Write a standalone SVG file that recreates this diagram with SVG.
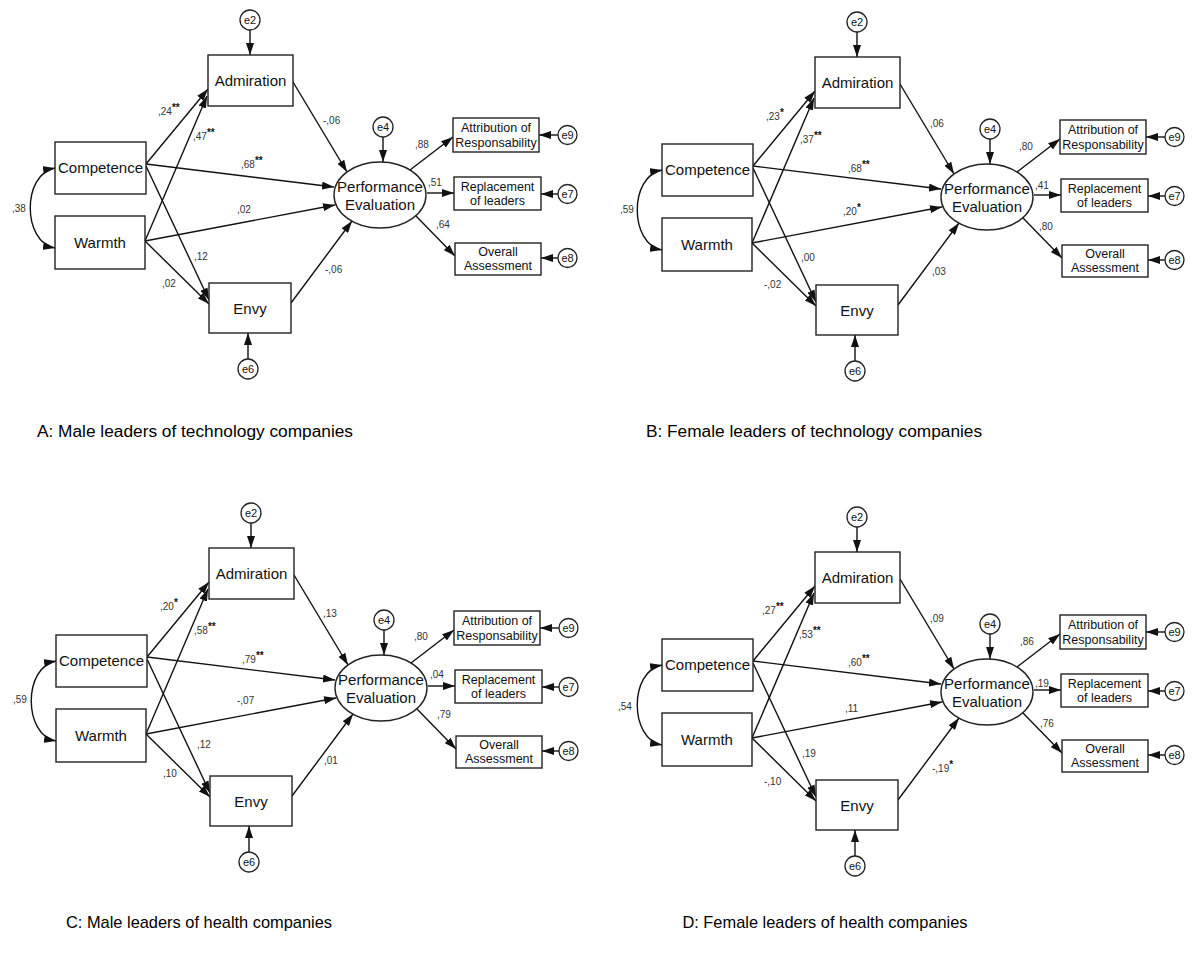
<svg xmlns="http://www.w3.org/2000/svg" width="1193" height="979" viewBox="0 0 1193 979">
  <style>
    .box { fill: #fff; stroke: #222; stroke-width: 1.4; }
    .err { fill: #fff; stroke: #222; stroke-width: 1.3; }
    .lat { fill: #fff; stroke: #222; stroke-width: 1.4; }
    .edge { fill: none; stroke: #111; stroke-width: 1.4; }
    .node { font-family: "Liberation Sans", Arial, sans-serif; font-size: 15px; fill: #111; text-anchor: middle; }
    .ind { font-family: "Liberation Sans", Arial, sans-serif; font-size: 12.5px; fill: #111; text-anchor: middle; }
    .etx { font-family: "Liberation Sans", Arial, sans-serif; font-size: 11px; fill: #111; text-anchor: middle; }
    .val { font-family: "Liberation Sans", Arial, sans-serif; font-size: 10px; fill: #333; }
    .sig { font-size: 10px; font-weight: bold; fill: #111; }
    .cap { font-family: "Liberation Sans", Arial, sans-serif; fill: #000; text-anchor: middle; }
    .cap-top { font-size: 17.3px; }
    .cap-bottom { font-size: 16.4px; }
  </style>
  <defs>
    <marker id="ah" markerUnits="userSpaceOnUse" markerWidth="12" markerHeight="8" refX="12" refY="4" orient="auto-start-reverse">
      <path d="M0,0 L12,4 L0,8 z" fill="#111"/>
    </marker>
  </defs>
  <rect width="1193" height="979" fill="#fff"/>

  <!-- Panel A -->
  <g id="panel-a">
    <g id="a-connectors">
      <path class="edge" d="M55,168 C22,174 22,242 55,248" marker-start="url(#ah)" marker-end="url(#ah)"/>
      <path class="edge" d="M146,164 L208,89" marker-end="url(#ah)"/>
      <path class="edge" d="M145,241 L207,96" marker-end="url(#ah)"/>
      <path class="edge" d="M146,164 L334,187" marker-end="url(#ah)"/>
      <path class="edge" d="M145,241 L335,205" marker-end="url(#ah)"/>
      <path class="edge" d="M146,166 L209,300" marker-end="url(#ah)"/>
      <path class="edge" d="M145,241 L209,304" marker-end="url(#ah)"/>
      <path class="edge" d="M293,82 L347,172" marker-end="url(#ah)"/>
      <path class="edge" d="M291,303 L352,221" marker-end="url(#ah)"/>
      <path class="edge" d="M410,170 L453,137" marker-end="url(#ah)"/>
      <path class="edge" d="M427,193 L454,193" marker-end="url(#ah)"/>
      <path class="edge" d="M416,216 L455,256" marker-end="url(#ah)"/>
      <path class="edge" d="M250,30 L250,55" marker-end="url(#ah)"/>
      <path class="edge" d="M383,137 L383,162" marker-end="url(#ah)"/>
      <path class="edge" d="M248,359 L248,333" marker-end="url(#ah)"/>
      <path class="edge" d="M558,135 L539,135" marker-end="url(#ah)"/>
      <path class="edge" d="M558,194 L541,194" marker-end="url(#ah)"/>
      <path class="edge" d="M558,258 L541,258" marker-end="url(#ah)"/>
    </g>
    <g id="a-admiration"><rect class="box" x="208" y="55" width="85" height="51"/><text class="node" x="250.5" y="86">Admiration</text></g>
    <g id="a-competence"><rect class="box" x="55" y="142" width="91" height="52"/><text class="node" x="100.5" y="173">Competence</text></g>
    <g id="a-warmth"><rect class="box" x="55" y="216" width="90" height="53"/><text class="node" x="100" y="248">Warmth</text></g>
    <g id="a-envy"><rect class="box" x="209" y="283" width="82" height="50"/><text class="node" x="250" y="314">Envy</text></g>
    <g id="a-performance"><ellipse class="lat" cx="380" cy="195" rx="46" ry="33"/><text class="node" x="380" y="192">Performance</text><text class="node" x="380" y="210">Evaluation</text></g>
    <g id="a-attribution"><rect class="box" x="453" y="118" width="86" height="34"/><text class="ind" x="496" y="132">Attribution of</text><text class="ind" x="496" y="147">Responsability</text></g>
    <g id="a-replacement"><rect class="box" x="454" y="177" width="87" height="33"/><text class="ind" x="497.5" y="191">Replacement</text><text class="ind" x="497.5" y="205">of leaders</text></g>
    <g id="a-overall"><rect class="box" x="455" y="243" width="86" height="32"/><text class="ind" x="498" y="256">Overall</text><text class="ind" x="498" y="270">Assessment</text></g>
    <g id="a-e2"><circle class="err" cx="250" cy="20" r="10"/><text class="etx" x="250" y="24">e2</text></g>
    <g id="a-e4"><circle class="err" cx="383" cy="127" r="10"/><text class="etx" x="383" y="131">e4</text></g>
    <g id="a-e6"><circle class="err" cx="248" cy="369" r="10"/><text class="etx" x="248" y="373">e6</text></g>
    <g id="a-e9"><circle class="err" cx="567.5" cy="135" r="9.5"/><text class="etx" x="567.5" y="139">e9</text></g>
    <g id="a-e7"><circle class="err" cx="567.5" cy="194" r="9.5"/><text class="etx" x="567.5" y="198">e7</text></g>
    <g id="a-e8"><circle class="err" cx="567.5" cy="258" r="9.5"/><text class="etx" x="567.5" y="262">e8</text></g>
    <g id="a-labels" class="val">
      <text x="158" y="115">,24<tspan class="sig" dy="-4">**</tspan></text>
      <text x="193" y="140">,47<tspan class="sig" dy="-4">**</tspan></text>
      <text x="241" y="168">,68<tspan class="sig" dy="-4">**</tspan></text>
      <text x="323" y="124">-,06</text>
      <text x="415" y="148">,88</text>
      <text x="428" y="186">,51</text>
      <text x="436" y="228">,64</text>
      <text x="325" y="273">-,06</text>
      <text x="12" y="212">,38</text>
      <text x="237" y="213">,02</text>
      <text x="194" y="260">,12</text>
      <text x="162" y="287">,02</text>
    </g>
  </g>

  <!-- Panel B -->
  <g id="panel-b" transform="translate(607,2)">
    <g id="b-connectors">
      <path class="edge" d="M55,168 C22,174 22,242 55,248" marker-start="url(#ah)" marker-end="url(#ah)"/>
      <path class="edge" d="M146,164 L208,89" marker-end="url(#ah)"/>
      <path class="edge" d="M145,241 L207,96" marker-end="url(#ah)"/>
      <path class="edge" d="M146,164 L334,187" marker-end="url(#ah)"/>
      <path class="edge" d="M145,241 L335,205" marker-end="url(#ah)"/>
      <path class="edge" d="M146,166 L209,300" marker-end="url(#ah)"/>
      <path class="edge" d="M145,241 L209,304" marker-end="url(#ah)"/>
      <path class="edge" d="M293,82 L347,172" marker-end="url(#ah)"/>
      <path class="edge" d="M291,303 L352,221" marker-end="url(#ah)"/>
      <path class="edge" d="M410,170 L453,137" marker-end="url(#ah)"/>
      <path class="edge" d="M427,193 L454,193" marker-end="url(#ah)"/>
      <path class="edge" d="M416,216 L455,256" marker-end="url(#ah)"/>
      <path class="edge" d="M250,30 L250,55" marker-end="url(#ah)"/>
      <path class="edge" d="M383,137 L383,162" marker-end="url(#ah)"/>
      <path class="edge" d="M248,359 L248,333" marker-end="url(#ah)"/>
      <path class="edge" d="M558,135 L539,135" marker-end="url(#ah)"/>
      <path class="edge" d="M558,194 L541,194" marker-end="url(#ah)"/>
      <path class="edge" d="M558,258 L541,258" marker-end="url(#ah)"/>
    </g>
    <g id="b-admiration"><rect class="box" x="208" y="55" width="85" height="51"/><text class="node" x="250.5" y="86">Admiration</text></g>
    <g id="b-competence"><rect class="box" x="55" y="142" width="91" height="52"/><text class="node" x="100.5" y="173">Competence</text></g>
    <g id="b-warmth"><rect class="box" x="55" y="216" width="90" height="53"/><text class="node" x="100" y="248">Warmth</text></g>
    <g id="b-envy"><rect class="box" x="209" y="283" width="82" height="50"/><text class="node" x="250" y="314">Envy</text></g>
    <g id="b-performance"><ellipse class="lat" cx="380" cy="195" rx="46" ry="33"/><text class="node" x="380" y="192">Performance</text><text class="node" x="380" y="210">Evaluation</text></g>
    <g id="b-attribution"><rect class="box" x="453" y="118" width="86" height="34"/><text class="ind" x="496" y="132">Attribution of</text><text class="ind" x="496" y="147">Responsability</text></g>
    <g id="b-replacement"><rect class="box" x="454" y="177" width="87" height="33"/><text class="ind" x="497.5" y="191">Replacement</text><text class="ind" x="497.5" y="205">of leaders</text></g>
    <g id="b-overall"><rect class="box" x="455" y="243" width="86" height="32"/><text class="ind" x="498" y="256">Overall</text><text class="ind" x="498" y="270">Assessment</text></g>
    <g id="b-e2"><circle class="err" cx="250" cy="20" r="10"/><text class="etx" x="250" y="24">e2</text></g>
    <g id="b-e4"><circle class="err" cx="383" cy="127" r="10"/><text class="etx" x="383" y="131">e4</text></g>
    <g id="b-e6"><circle class="err" cx="248" cy="369" r="10"/><text class="etx" x="248" y="373">e6</text></g>
    <g id="b-e9"><circle class="err" cx="567.5" cy="135" r="9.5"/><text class="etx" x="567.5" y="139">e9</text></g>
    <g id="b-e7"><circle class="err" cx="567.5" cy="194" r="9.5"/><text class="etx" x="567.5" y="198">e7</text></g>
    <g id="b-e8"><circle class="err" cx="567.5" cy="258" r="9.5"/><text class="etx" x="567.5" y="262">e8</text></g>
    <g id="b-labels" class="val">
      <text x="159" y="118">,23<tspan class="sig" dy="-4">*</tspan></text>
      <text x="193" y="141">,37<tspan class="sig" dy="-4">**</tspan></text>
      <text x="241" y="170">,68<tspan class="sig" dy="-4">**</tspan></text>
      <text x="323" y="125">,06</text>
      <text x="412" y="148">,80</text>
      <text x="428" y="187">,41</text>
      <text x="432" y="228">,80</text>
      <text x="325" y="273">,03</text>
      <text x="13" y="211">,59</text>
      <text x="236" y="213">,20<tspan class="sig" dy="-4">*</tspan></text>
      <text x="194" y="259">,00</text>
      <text x="157" y="286">-,02</text>
    </g>
  </g>

  <!-- Panel C -->
  <g id="panel-c" transform="translate(1,493)">
    <g id="c-connectors">
      <path class="edge" d="M55,168 C22,174 22,242 55,248" marker-start="url(#ah)" marker-end="url(#ah)"/>
      <path class="edge" d="M146,164 L208,89" marker-end="url(#ah)"/>
      <path class="edge" d="M145,241 L207,96" marker-end="url(#ah)"/>
      <path class="edge" d="M146,164 L334,187" marker-end="url(#ah)"/>
      <path class="edge" d="M145,241 L335,205" marker-end="url(#ah)"/>
      <path class="edge" d="M146,166 L209,300" marker-end="url(#ah)"/>
      <path class="edge" d="M145,241 L209,304" marker-end="url(#ah)"/>
      <path class="edge" d="M293,82 L347,172" marker-end="url(#ah)"/>
      <path class="edge" d="M291,303 L352,221" marker-end="url(#ah)"/>
      <path class="edge" d="M410,170 L453,137" marker-end="url(#ah)"/>
      <path class="edge" d="M427,193 L454,193" marker-end="url(#ah)"/>
      <path class="edge" d="M416,216 L455,256" marker-end="url(#ah)"/>
      <path class="edge" d="M250,30 L250,55" marker-end="url(#ah)"/>
      <path class="edge" d="M383,137 L383,162" marker-end="url(#ah)"/>
      <path class="edge" d="M248,359 L248,333" marker-end="url(#ah)"/>
      <path class="edge" d="M558,135 L539,135" marker-end="url(#ah)"/>
      <path class="edge" d="M558,194 L541,194" marker-end="url(#ah)"/>
      <path class="edge" d="M558,258 L541,258" marker-end="url(#ah)"/>
    </g>
    <g id="c-admiration"><rect class="box" x="208" y="55" width="85" height="51"/><text class="node" x="250.5" y="86">Admiration</text></g>
    <g id="c-competence"><rect class="box" x="55" y="142" width="91" height="52"/><text class="node" x="100.5" y="173">Competence</text></g>
    <g id="c-warmth"><rect class="box" x="55" y="216" width="90" height="53"/><text class="node" x="100" y="248">Warmth</text></g>
    <g id="c-envy"><rect class="box" x="209" y="283" width="82" height="50"/><text class="node" x="250" y="314">Envy</text></g>
    <g id="c-performance"><ellipse class="lat" cx="380" cy="195" rx="46" ry="33"/><text class="node" x="380" y="192">Performance</text><text class="node" x="380" y="210">Evaluation</text></g>
    <g id="c-attribution"><rect class="box" x="453" y="118" width="86" height="34"/><text class="ind" x="496" y="132">Attribution of</text><text class="ind" x="496" y="147">Responsability</text></g>
    <g id="c-replacement"><rect class="box" x="454" y="177" width="87" height="33"/><text class="ind" x="497.5" y="191">Replacement</text><text class="ind" x="497.5" y="205">of leaders</text></g>
    <g id="c-overall"><rect class="box" x="455" y="243" width="86" height="32"/><text class="ind" x="498" y="256">Overall</text><text class="ind" x="498" y="270">Assessment</text></g>
    <g id="c-e2"><circle class="err" cx="250" cy="20" r="10"/><text class="etx" x="250" y="24">e2</text></g>
    <g id="c-e4"><circle class="err" cx="383" cy="127" r="10"/><text class="etx" x="383" y="131">e4</text></g>
    <g id="c-e6"><circle class="err" cx="248" cy="369" r="10"/><text class="etx" x="248" y="373">e6</text></g>
    <g id="c-e9"><circle class="err" cx="567.5" cy="135" r="9.5"/><text class="etx" x="567.5" y="139">e9</text></g>
    <g id="c-e7"><circle class="err" cx="567.5" cy="194" r="9.5"/><text class="etx" x="567.5" y="198">e7</text></g>
    <g id="c-e8"><circle class="err" cx="567.5" cy="258" r="9.5"/><text class="etx" x="567.5" y="262">e8</text></g>
    <g id="c-labels" class="val">
      <text x="159" y="117">,20<tspan class="sig" dy="-4">*</tspan></text>
      <text x="193" y="141">,58<tspan class="sig" dy="-4">**</tspan></text>
      <text x="241" y="170">,79<tspan class="sig" dy="-4">**</tspan></text>
      <text x="322" y="124">,13</text>
      <text x="413" y="147">,80</text>
      <text x="429" y="185">,04</text>
      <text x="436" y="225">,79</text>
      <text x="323" y="271">,01</text>
      <text x="12" y="210">,59</text>
      <text x="236" y="211">-,07</text>
      <text x="196" y="255">,12</text>
      <text x="162" y="284">,10</text>
    </g>
  </g>

  <!-- Panel D -->
  <g id="panel-d" transform="translate(607,497)">
    <g id="d-connectors">
      <path class="edge" d="M55,168 C22,174 22,242 55,248" marker-start="url(#ah)" marker-end="url(#ah)"/>
      <path class="edge" d="M146,164 L208,89" marker-end="url(#ah)"/>
      <path class="edge" d="M145,241 L207,96" marker-end="url(#ah)"/>
      <path class="edge" d="M146,164 L334,187" marker-end="url(#ah)"/>
      <path class="edge" d="M145,241 L335,205" marker-end="url(#ah)"/>
      <path class="edge" d="M146,166 L209,300" marker-end="url(#ah)"/>
      <path class="edge" d="M145,241 L209,304" marker-end="url(#ah)"/>
      <path class="edge" d="M293,82 L347,172" marker-end="url(#ah)"/>
      <path class="edge" d="M291,303 L352,221" marker-end="url(#ah)"/>
      <path class="edge" d="M410,170 L453,137" marker-end="url(#ah)"/>
      <path class="edge" d="M427,193 L454,193" marker-end="url(#ah)"/>
      <path class="edge" d="M416,216 L455,256" marker-end="url(#ah)"/>
      <path class="edge" d="M250,30 L250,55" marker-end="url(#ah)"/>
      <path class="edge" d="M383,137 L383,162" marker-end="url(#ah)"/>
      <path class="edge" d="M248,359 L248,333" marker-end="url(#ah)"/>
      <path class="edge" d="M558,135 L539,135" marker-end="url(#ah)"/>
      <path class="edge" d="M558,194 L541,194" marker-end="url(#ah)"/>
      <path class="edge" d="M558,258 L541,258" marker-end="url(#ah)"/>
    </g>
    <g id="d-admiration"><rect class="box" x="208" y="55" width="85" height="51"/><text class="node" x="250.5" y="86">Admiration</text></g>
    <g id="d-competence"><rect class="box" x="55" y="142" width="91" height="52"/><text class="node" x="100.5" y="173">Competence</text></g>
    <g id="d-warmth"><rect class="box" x="55" y="216" width="90" height="53"/><text class="node" x="100" y="248">Warmth</text></g>
    <g id="d-envy"><rect class="box" x="209" y="283" width="82" height="50"/><text class="node" x="250" y="314">Envy</text></g>
    <g id="d-performance"><ellipse class="lat" cx="380" cy="195" rx="46" ry="33"/><text class="node" x="380" y="192">Performance</text><text class="node" x="380" y="210">Evaluation</text></g>
    <g id="d-attribution"><rect class="box" x="453" y="118" width="86" height="34"/><text class="ind" x="496" y="132">Attribution of</text><text class="ind" x="496" y="147">Responsability</text></g>
    <g id="d-replacement"><rect class="box" x="454" y="177" width="87" height="33"/><text class="ind" x="497.5" y="191">Replacement</text><text class="ind" x="497.5" y="205">of leaders</text></g>
    <g id="d-overall"><rect class="box" x="455" y="243" width="86" height="32"/><text class="ind" x="498" y="256">Overall</text><text class="ind" x="498" y="270">Assessment</text></g>
    <g id="d-e2"><circle class="err" cx="250" cy="20" r="10"/><text class="etx" x="250" y="24">e2</text></g>
    <g id="d-e4"><circle class="err" cx="383" cy="127" r="10"/><text class="etx" x="383" y="131">e4</text></g>
    <g id="d-e6"><circle class="err" cx="248" cy="369" r="10"/><text class="etx" x="248" y="373">e6</text></g>
    <g id="d-e9"><circle class="err" cx="567.5" cy="135" r="9.5"/><text class="etx" x="567.5" y="139">e9</text></g>
    <g id="d-e7"><circle class="err" cx="567.5" cy="194" r="9.5"/><text class="etx" x="567.5" y="198">e7</text></g>
    <g id="d-e8"><circle class="err" cx="567.5" cy="258" r="9.5"/><text class="etx" x="567.5" y="262">e8</text></g>
    <g id="d-labels" class="val">
      <text x="155" y="117">,27<tspan class="sig" dy="-4">**</tspan></text>
      <text x="192" y="141">,53<tspan class="sig" dy="-4">**</tspan></text>
      <text x="241" y="169">,60<tspan class="sig" dy="-4">**</tspan></text>
      <text x="323" y="125">,09</text>
      <text x="413" y="148">,86</text>
      <text x="428" y="190">,19</text>
      <text x="433" y="230">,76</text>
      <text x="325" y="275">-,19<tspan class="sig" dy="-4">*</tspan></text>
      <text x="11" y="213">,54</text>
      <text x="238" y="215">,11</text>
      <text x="195" y="260">,19</text>
      <text x="157" y="288">-,10</text>
    </g>
  </g>

  <!-- Panel captions -->
  <g id="captions">
    <text class="cap cap-top" x="195" y="437">A: Male leaders of technology companies</text>
    <text class="cap cap-top" x="814" y="437">B: Female leaders of technology companies</text>
    <text class="cap cap-bottom" x="199" y="928">C: Male leaders of health companies</text>
    <text class="cap cap-bottom" x="825" y="928">D: Female leaders of health companies</text>
  </g>
</svg>
